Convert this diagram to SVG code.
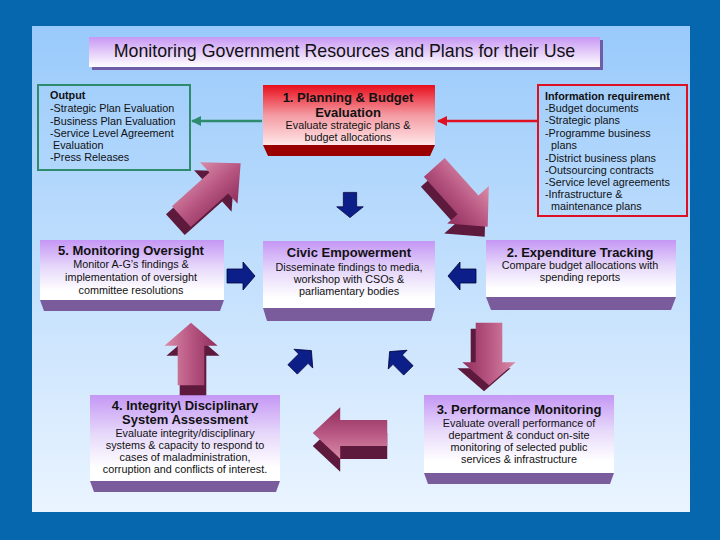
<svg xmlns="http://www.w3.org/2000/svg" width="720" height="540" viewBox="0 0 720 540">
<defs>
<linearGradient id="panelGrad" x1="0" y1="0" x2="0" y2="1"><stop offset="0" stop-color="#99CAFB"/><stop offset="1" stop-color="#EAF4FF"/></linearGradient>
<linearGradient id="boxGrad" x1="0" y1="0" x2="0" y2="1"><stop offset="0" stop-color="#C597F5"/><stop offset="0.45" stop-color="#E6D8FA"/><stop offset="0.85" stop-color="#FFFFFF"/></linearGradient>
<linearGradient id="redGrad" x1="0" y1="0" x2="0" y2="1"><stop offset="0" stop-color="#E80E1C"/><stop offset="0.5" stop-color="#F49AA2"/><stop offset="1" stop-color="#FFE6E8"/></linearGradient>
<linearGradient id="titleGrad" x1="0" y1="0" x2="0" y2="1"><stop offset="0" stop-color="#C898F4"/><stop offset="1" stop-color="#FFFFFF"/></linearGradient>
<linearGradient id="arrowFace" x1="0" y1="0" x2="0" y2="1"><stop offset="0" stop-color="#D98CA8"/><stop offset="0.5" stop-color="#B85682"/><stop offset="1" stop-color="#902E5C"/></linearGradient>
<path id="bigArrow" d="M-38,-14 L10,-14 L10,-28 L38,0 L10,28 L10,14 L-38,14 Z"/>
<path id="smallArrow" d="M-14,-7 L2,-7 L2,-14 L14,0 L2,14 L2,7 L-14,7 Z"/>
<marker id="headGreen" viewBox="0 0 10 10" refX="9" refY="5" markerWidth="4" markerHeight="4" orient="auto"><path d="M0,0 L10,5 L0,10 Z" fill="#2E8B6E"/></marker>
<marker id="headRed" viewBox="0 0 10 10" refX="9" refY="5" markerWidth="4" markerHeight="4" orient="auto"><path d="M0,0 L10,5 L0,10 Z" fill="#DD1122"/></marker>
</defs>
<style>
text{font-family:"Liberation Sans",Arial,sans-serif;fill:#111;}
.t{font-weight:bold;font-size:13px;text-anchor:middle;}
.b{font-size:10.8px;text-anchor:middle;}
.l{font-size:10.8px;}
.lb{font-size:10.8px;font-weight:bold;}
.box{fill:url(#boxGrad);}
.bev{fill:#7A5C9C;}
.shade{fill:#5E1A3C;}
.face{fill:url(#arrowFace);}
.sa{fill:#0C1E88;stroke:#00003A;stroke-width:0.8;}
</style>
<rect width="720" height="540" fill="#0767AE"/>
<rect x="32" y="26" width="658" height="486" fill="url(#panelGrad)"/>

<g id="title">
<rect x="92" y="40" width="511" height="30" fill="#6E5EA8"/>
<rect x="89" y="37" width="511" height="30" fill="url(#titleGrad)"/>
<text x="344.5" y="57" style="font-size:17.8px;text-anchor:middle">Monitoring Government Resources and Plans for their Use</text>
</g>

<g id="output">
<rect x="38" y="85" width="152" height="85" fill="none" stroke="#2E8B6E" stroke-width="2"/>
<text class="lb" x="50" y="99">Output</text>
<text class="l" x="50" y="112">-Strategic Plan Evaluation</text>
<text class="l" x="50" y="125">-Business Plan Evaluation</text>
<text class="l" x="50" y="137">-Service Level Agreement</text>
<text class="l" x="53" y="149">Evaluation</text>
<text class="l" x="50" y="161">-Press Releases</text>
</g>

<g id="info">
<rect x="538" y="85" width="149" height="131" fill="none" stroke="#DD1122" stroke-width="2"/>
<text class="lb" x="545" y="100">Information requirement</text>
<text class="l" x="545" y="112">-Budget documents</text>
<text class="l" x="545" y="124">-Strategic plans</text>
<text class="l" x="545" y="137">-Programme business</text>
<text class="l" x="551" y="149">plans</text>
<text class="l" x="545" y="162">-District business plans</text>
<text class="l" x="545" y="174">-Outsourcing contracts</text>
<text class="l" x="545" y="186">-Service level agreements</text>
<text class="l" x="545" y="198">-Infrastructure  &amp;</text>
<text class="l" x="551" y="210">maintenance plans</text>
</g>

<g id="planning">
<polygon points="263,145 435,145 430,156 268,156" fill="#9A0000"/>
<rect x="263" y="85" width="172" height="60" fill="url(#redGrad)"/>
<text class="t" x="348" y="102">1. Planning &amp; Budget</text>
<text class="t" x="348" y="117">Evaluation</text>
<text class="b" x="348" y="129">Evaluate strategic plans &amp;</text>
<text class="b" x="348" y="141">budget allocations</text>
</g>

<g id="monitoring">
<polygon points="40,300 224,300 220,311 44,311" class="bev"/>
<rect x="40" y="240" width="184" height="60" class="box"/>
<text class="t" x="131" y="255">5. Monitoring Oversight</text>
<text class="b" x="131" y="268">Monitor A-G’s findings &amp;</text>
<text class="b" x="131" y="281">implementation of oversight</text>
<text class="b" x="131" y="294">committee resolutions</text>
</g>

<g id="civic">
<polygon points="263,308 435,308 431,321 267,321" class="bev"/>
<rect x="263" y="241" width="172" height="67" class="box"/>
<text class="t" x="349" y="257">Civic Empowerment</text>
<text class="b" x="349" y="271">Disseminate findings to media,</text>
<text class="b" x="349" y="283">workshop with CSOs &amp;</text>
<text class="b" x="349" y="295">parliamentary bodies</text>
</g>

<g id="expenditure">
<polygon points="486,297 676,297 671,310 491,310" class="bev"/>
<rect x="486" y="240" width="190" height="57" class="box"/>
<text class="t" x="580" y="257">2. Expenditure Tracking</text>
<text class="b" x="580" y="269">Compare budget allocations with</text>
<text class="b" x="580" y="281">spending reports</text>
</g>

<g id="integrity">
<polygon points="90,481 280,481 276,492 94,492" class="bev"/>
<rect x="90" y="395" width="190" height="86" class="box"/>
<text class="t" x="185" y="410">4. Integrity\ Disciplinary</text>
<text class="t" x="185" y="424">System Assessment</text>
<text class="b" x="185" y="437">Evaluate integrity/disciplinary</text>
<text class="b" x="185" y="449">systems &amp; capacity to respond to</text>
<text class="b" x="185" y="461">cases of maladministration,</text>
<text class="b" x="185" y="473">corruption and conflicts of interest.</text>
</g>

<g id="performance">
<polygon points="424,473 614,473 610,484 428,484" class="bev"/>
<rect x="424" y="395" width="190" height="78" class="box"/>
<text class="t" x="519" y="414">3. Performance Monitoring</text>
<text class="b" x="519" y="427">Evaluate overall performance of</text>
<text class="b" x="519" y="439">department &amp; conduct on-site</text>
<text class="b" x="519" y="451">monitoring of selected public</text>
<text class="b" x="519" y="463">services &amp; infrastructure</text>
</g>

<g id="connectors">
<line x1="262" y1="121" x2="192" y2="121" stroke="#2E8B6E" stroke-width="2.5" marker-end="url(#headGreen)"/>
<line x1="537" y1="121" x2="438" y2="121" stroke="#DD1122" stroke-width="2.5" marker-end="url(#headRed)"/>
<use href="#bigArrow" class="shade" transform="translate(205,198) rotate(-42) scale(1.05,1)"/>
<use href="#bigArrow" class="face" transform="translate(211,190) rotate(-42) scale(1.05,1)"/>
<use href="#bigArrow" class="shade" transform="translate(458,207) rotate(48) scale(1.05,1)"/>
<use href="#bigArrow" class="face" transform="translate(461,197) rotate(48) scale(1.05,1)"/>
<use href="#bigArrow" class="shade" transform="translate(484,360) rotate(90) scale(0.82,0.95)"/>
<use href="#bigArrow" class="face" transform="translate(489,354) rotate(90) scale(0.82,0.95)"/>
<use href="#bigArrow" class="shade" transform="translate(193,364) rotate(-90) scale(0.82,0.95)"/>
<use href="#bigArrow" class="face" transform="translate(191,354) rotate(-90) scale(0.82,0.95)"/>
<use href="#bigArrow" class="shade" transform="translate(350,446) rotate(180) scale(0.98,0.92)"/>
<use href="#bigArrow" class="face" transform="translate(350,433) rotate(180) scale(0.98,0.92)"/>
<use href="#smallArrow" class="sa" transform="translate(350,205) rotate(90) scale(0.9,0.95)"/>
<use href="#smallArrow" class="sa" transform="translate(241,276)"/>
<use href="#smallArrow" class="sa" transform="translate(462,276) rotate(180)"/>
<use href="#smallArrow" class="sa" transform="translate(302,360) rotate(-45) scale(0.95)"/>
<use href="#smallArrow" class="sa" transform="translate(399,361) rotate(-135) scale(0.95)"/>
</g>
</svg>
